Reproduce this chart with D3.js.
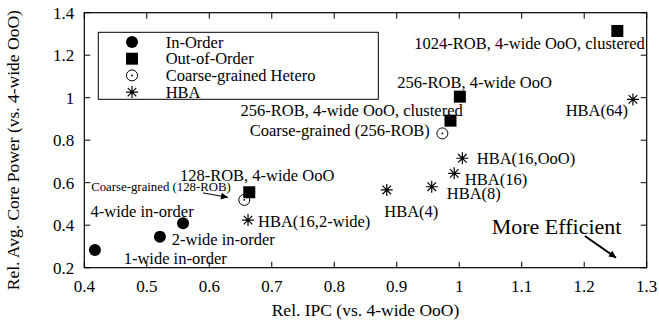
<!DOCTYPE html>
<html>
<head>
<meta charset="utf-8">
<script src="https://cdn.jsdelivr.net/npm/d3@7"></script>
<style>
  body { margin: 0; background: #fff; }
  svg { display: block; font-family: "Liberation Serif", "Times New Roman", serif; }
</style>
</head>
<body>
<div id="chart"></div>
<script>
// series: [ipc, power]
const inOrder = [[0.417, 0.283], [0.521, 0.346], [0.558, 0.409]];
const outOfOrder = [[0.664, 0.555], [0.986, 0.892], [1.001, 1.005], [1.253, 1.314]];
const coarse = [[0.656, 0.519], [0.973, 0.832]];
const hba = [[0.662, 0.424], [0.884, 0.566], [0.956, 0.581], [0.992, 0.644], [1.005, 0.715], [1.278, 0.992]];

const legendNames = ['In-Order', 'Out-of-Order', 'Coarse-grained Hetero', 'HBA'];
const xTicks = [0.4, 0.5, 0.6, 0.7, 0.8, 0.9, 1, 1.1, 1.2, 1.3];
const yTicks = [0.2, 0.4, 0.6, 0.8, 1, 1.2, 1.4];

// point labels: text, x, y, anchor
const labels = [
    ['1-wide in-order', 0.463, 0.244, 'start'],
    ['2-wide in-order', 0.540, 0.335, 'start'],
    ['4-wide in-order', 0.410, 0.464, 'start'],
    ['128-ROB, 4-wide OoO', 0.553, 0.636, 'start'],
    ['HBA(16,2-wide)', 0.678, 0.420, 'start'],
    ['HBA(4)', 0.880, 0.464, 'start'],
    ['HBA(8)', 0.980, 0.550, 'start'],
    ['HBA(16)', 1.009, 0.616, 'start'],
    ['HBA(16,OoO)', 1.028, 0.714, 'start'],
    ['HBA(64)', 1.270, 0.942, 'end'],
    ['1024-ROB, 4-wide OoO, clustered', 1.297, 1.256, 'end'],
    ['256-ROB, 4-wide OoO', 0.901, 1.075, 'start'],
    ['256-ROB, 4-wide OoO, clustered', 0.650, 0.942, 'start'],
    ['Coarse-grained (256-ROB)', 0.953, 0.848, 'end']
];

const width = 659, height = 324;
const margin = { top: 12.7, right: 12.3, bottom: 56.3, left: 84.3 };

const svg = d3.select('#chart').append('svg')
    .attr('width', width)
    .attr('height', height);

const x = d3.scaleLinear().domain([0.4, 1.3]).range([margin.left, width - margin.right]);
const y = d3.scaleLinear().domain([0.2, 1.4]).range([height - margin.bottom, margin.top]);

const tickLen = 6;
const g = svg.append('g');

// ticks on all four sides, pointing inwards
xTicks.forEach(t => {
    g.append('line').attr('x1', x(t)).attr('x2', x(t))
        .attr('y1', y(0.2)).attr('y2', y(0.2) - tickLen).attr('stroke', '#000');
    g.append('line').attr('x1', x(t)).attr('x2', x(t))
        .attr('y1', y(1.4)).attr('y2', y(1.4) + tickLen).attr('stroke', '#000');
    g.append('text').attr('x', x(t)).attr('y', y(0.2) + 24)
        .attr('text-anchor', 'middle').attr('font-size', 17).text(d3.format('~g')(t));
});
yTicks.forEach(t => {
    g.append('line').attr('x1', x(0.4)).attr('x2', x(0.4) + tickLen)
        .attr('y1', y(t)).attr('y2', y(t)).attr('stroke', '#000');
    g.append('line').attr('x1', x(1.3)).attr('x2', x(1.3) - tickLen)
        .attr('y1', y(t)).attr('y2', y(t)).attr('stroke', '#000');
    g.append('text').attr('x', x(0.4) - 10).attr('y', y(t))
        .attr('dy', '0.35em').attr('text-anchor', 'end').attr('font-size', 17)
        .text(d3.format('~g')(t));
});

g.append('rect')
    .attr('x', x(0.4)).attr('y', y(1.4))
    .attr('width', x(1.3) - x(0.4)).attr('height', y(0.2) - y(1.4))
    .attr('fill', 'none').attr('stroke', '#000').attr('stroke-width', 1.2);

// axis titles
svg.append('text').attr('x', (x(0.4) + x(1.3)) / 2).attr('y', 316)
    .attr('text-anchor', 'middle').attr('font-size', 17.5).text('Rel. IPC (vs. 4-wide OoO)');
svg.append('text')
    .attr('transform', `translate(19,${(y(0.2) + y(1.4)) / 2 + 10}) rotate(-90)`)
    .attr('text-anchor', 'middle').attr('font-size', 17.5)
    .text('Rel. Avg. Core Power (vs. 4-wide OoO)');

// marker drawers
function drawCircle(sel, cx, cy) {
    sel.append('circle').attr('cx', cx).attr('cy', cy).attr('r', 6).attr('fill', '#000');
}
function drawSquare(sel, cx, cy) {
    sel.append('rect').attr('x', cx - 6).attr('y', cy - 6).attr('width', 12).attr('height', 12).attr('fill', '#000');
}
function drawOpen(sel, cx, cy) {
    sel.append('circle').attr('cx', cx).attr('cy', cy).attr('r', 5.5)
        .attr('fill', 'none').attr('stroke', '#000').attr('stroke-width', 1);
    sel.append('circle').attr('cx', cx).attr('cy', cy).attr('r', 0.9).attr('fill', '#000');
}
function drawStar(sel, cx, cy) {
    const s = 6, d = 4.3;
    const p = `M${cx - s},${cy}L${cx + s},${cy}M${cx},${cy - s}L${cx},${cy + s}` +
        `M${cx - d},${cy - d}L${cx + d},${cy + d}M${cx - d},${cy + d}L${cx + d},${cy - d}`;
    sel.append('path').attr('d', p).attr('stroke', '#000').attr('stroke-width', 1.2);
}

const series = [
    { data: inOrder, draw: drawCircle },
    { data: outOfOrder, draw: drawSquare },
    { data: coarse, draw: drawOpen },
    { data: hba, draw: drawStar }
];

const marks = svg.append('g');
series.forEach(s => {
    s.data.forEach(d => s.draw(marks, x(d[0]), y(d[1])));
});

// point labels
const lab = svg.append('g').attr('font-size', 16.5);
labels.forEach(l => {
    lab.append('text').attr('x', x(l[1])).attr('y', y(l[2]))
        .attr('dy', '0.35em').attr('text-anchor', l[3]).text(l[0]);
});

// small label with arrow
svg.append('text').attr('x', x(0.411)).attr('y', y(0.581)).attr('dy', '0.35em')
    .attr('font-size', 12.8).text('Coarse-grained (128-ROB)');

svg.append('defs').append('marker')
    .attr('id', 'head').attr('viewBox', '0 0 10 10')
    .attr('refX', 10).attr('refY', 5)
    .attr('markerWidth', 10).attr('markerHeight', 7)
    .attr('markerUnits', 'userSpaceOnUse')
    .attr('orient', 'auto')
    .append('path').attr('d', 'M0,0L10,5L0,10z').attr('fill', '#000');

function arrow(x1, y1, x2, y2, w) {
    svg.append('line')
        .attr('x1', x(x1)).attr('y1', y(y1))
        .attr('x2', x(x2)).attr('y2', y(y2))
        .attr('stroke', '#000').attr('stroke-width', w)
        .attr('marker-end', 'url(#head)');
}
arrow(0.590, 0.552, 0.630, 0.531, 1);

svg.append('text').attr('x', x(1.052)).attr('y', y(0.393)).attr('dy', '0.35em')
    .attr('font-size', 22).text('More Efficient');
arrow(1.201, 0.349, 1.251, 0.247, 2);

// legend
const lg = svg.append('g');
lg.append('rect').attr('x', 98.3).attr('y', 32.3).attr('width', 280).attr('height', 67)
    .attr('fill', '#fff').attr('stroke', '#000');
legendNames.forEach((name, i) => {
    const ly = 42 + i * 16.7;
    series[i].draw(lg, 132, ly);
    lg.append('text').attr('x', 165.7).attr('y', ly).attr('dy', '0.35em')
        .attr('font-size', 16.5).text(name);
});
</script>
</body>
</html>
